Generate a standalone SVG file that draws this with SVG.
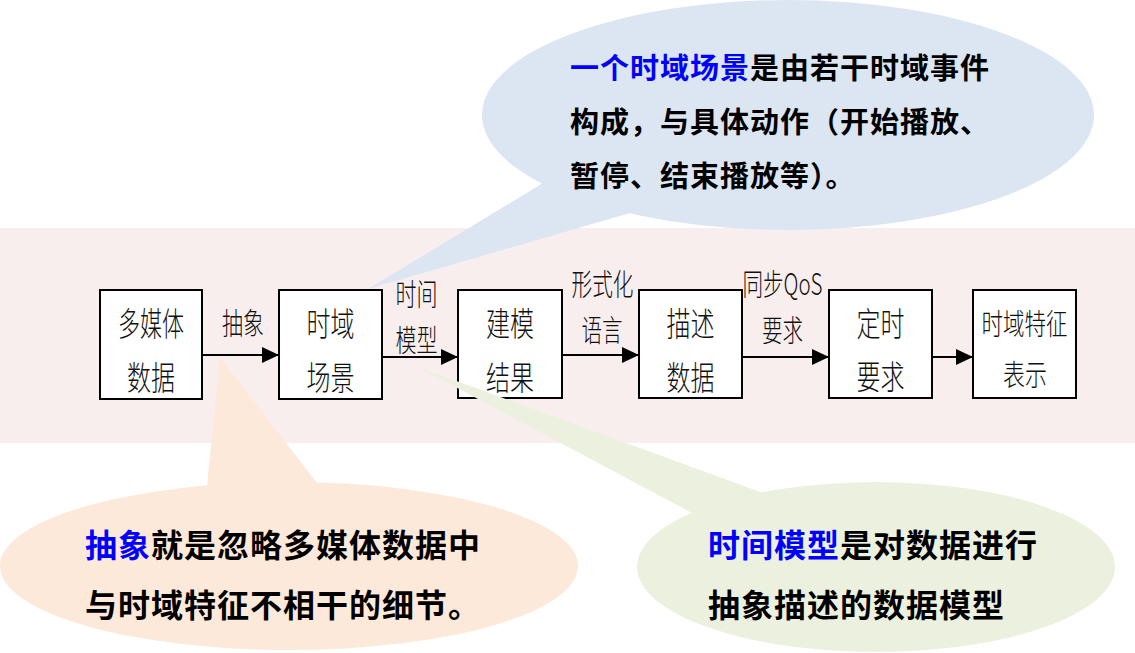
<svg xmlns="http://www.w3.org/2000/svg" width="1135" height="653" viewBox="0 0 1135 653">
<style>
.box{fill:#ffffff;stroke:#000000;stroke-width:2}
.lbl{font-family:"Noto Sans CJK SC","Liberation Serif",serif;font-weight:300;fill:#111111;text-anchor:middle}
.bt{font-size:33px}
.at{font-size:30px}
.conn{stroke:#000000;stroke-width:2;fill:none}
.call{font-family:"Noto Sans CJK SC","Liberation Sans",sans-serif;font-weight:bold;fill:#000000}
.hl{fill:#0000FF}
</style>
<defs>
<marker id="ah" markerUnits="userSpaceOnUse" markerWidth="18" markerHeight="18" refX="17" refY="8" orient="auto">
<path d="M0,0 L17,8 L0,16 Z" fill="#000000"/>
</marker>
</defs>
<rect width="1135" height="653" fill="#ffffff"/>
<rect x="0" y="228" width="1135" height="215" fill="#F9EEEE"/>

<g id="connectors">
<line class="conn" x1="202" y1="355" x2="279" y2="355" marker-end="url(#ah)"/>
<line class="conn" x1="382" y1="357" x2="458" y2="357" marker-end="url(#ah)"/>
<line class="conn" x1="562" y1="355" x2="639" y2="355" marker-end="url(#ah)"/>
<line class="conn" x1="742" y1="357" x2="829" y2="357" marker-end="url(#ah)"/>
<line class="conn" x1="932" y1="357" x2="973" y2="357" marker-end="url(#ah)"/>
<text class="lbl at" x="243" y="334" textLength="42" lengthAdjust="spacingAndGlyphs">抽象</text>
<text class="lbl at" x="416.5" y="305" textLength="42" lengthAdjust="spacingAndGlyphs">时间</text>
<text class="lbl at" x="416.5" y="351" textLength="42" lengthAdjust="spacingAndGlyphs">模型</text>
<text class="lbl at" x="602.5" y="295" textLength="62" lengthAdjust="spacingAndGlyphs">形式化</text>
<text class="lbl at" x="602" y="341" textLength="41" lengthAdjust="spacingAndGlyphs">语言</text>
<text class="lbl at" x="782.5" y="295" textLength="80" lengthAdjust="spacingAndGlyphs">同步QoS</text>
<text class="lbl at" x="782.5" y="341" textLength="41" lengthAdjust="spacingAndGlyphs">要求</text>
</g>

<g id="node-multimedia">
<rect class="box" x="100" y="290" width="102" height="109"/>
<text class="lbl bt" x="151" y="336" textLength="66" lengthAdjust="spacingAndGlyphs">多媒体</text>
<text class="lbl bt" x="151" y="390" textLength="48" lengthAdjust="spacingAndGlyphs">数据</text>
</g>
<g id="node-scene">
<rect class="box" x="279" y="290" width="103" height="109"/>
<text class="lbl bt" x="330.5" y="336" textLength="48" lengthAdjust="spacingAndGlyphs">时域</text>
<text class="lbl bt" x="330.5" y="390" textLength="48" lengthAdjust="spacingAndGlyphs">场景</text>
</g>
<g id="node-model">
<rect class="box" x="458" y="290" width="104" height="108"/>
<text class="lbl bt" x="510" y="336" textLength="48" lengthAdjust="spacingAndGlyphs">建模</text>
<text class="lbl bt" x="510" y="390" textLength="48" lengthAdjust="spacingAndGlyphs">结果</text>
</g>
<g id="node-describe">
<rect class="box" x="639" y="290" width="103" height="108"/>
<text class="lbl bt" x="690.5" y="336" textLength="48" lengthAdjust="spacingAndGlyphs">描述</text>
<text class="lbl bt" x="690.5" y="390" textLength="48" lengthAdjust="spacingAndGlyphs">数据</text>
</g>
<g id="node-timing">
<rect class="box" x="829" y="290" width="103" height="108"/>
<text class="lbl bt" x="880.5" y="336" textLength="48" lengthAdjust="spacingAndGlyphs">定时</text>
<text class="lbl bt" x="880.5" y="389" textLength="48" lengthAdjust="spacingAndGlyphs">要求</text>
</g>
<g id="node-feature">
<rect class="box" x="973" y="290" width="103" height="108"/>
<text class="lbl" style="font-size:29px" x="1024.5" y="335" textLength="86" lengthAdjust="spacingAndGlyphs">时域特征</text>
<text class="lbl" style="font-size:29px" x="1025" y="386" textLength="44" lengthAdjust="spacingAndGlyphs">表示</text>
</g>

<g id="callout-scene">
<ellipse cx="788" cy="115" rx="306" ry="115" fill="#DCE6F2"/>
<polygon points="543,183 368,289 630,213" fill="#DCE6F2"/>
<text class="call" x="570" y="79" style="font-size:29px;letter-spacing:1px"><tspan class="hl">一个时域场景</tspan>是由若干时域事件</text>
<text class="call" x="570" y="133" style="font-size:29px;letter-spacing:1px">构成，与具体动作（开始播放、</text>
<text class="call" x="570" y="187" style="font-size:29px;letter-spacing:1px">暂停、结束播放等）。</text>
</g>

<g id="callout-abstract">
<ellipse cx="289" cy="566" rx="289" ry="84" fill="#FDE9D9"/>
<polygon points="207,486 220,357 317,483" fill="#FDE9D9"/>
<text class="call" x="85" y="557" style="font-size:32px;letter-spacing:1px"><tspan class="hl">抽象</tspan>就是忽略多媒体数据中</text>
<text class="call" x="85" y="617" style="font-size:32px;letter-spacing:1px">与时域特征不相干的细节。</text>
</g>

<g id="callout-timemodel">
<ellipse cx="876" cy="567" rx="239" ry="85" fill="#EBF1DE"/>
<polygon points="692,513 418,367 763,493" fill="#EBF1DE"/>
<text class="call" x="708" y="557" style="font-size:32px;letter-spacing:1px"><tspan class="hl">时间模型</tspan>是对数据进行</text>
<text class="call" x="708" y="617" style="font-size:32px;letter-spacing:1px">抽象描述的数据模型</text>
</g>
</svg>
